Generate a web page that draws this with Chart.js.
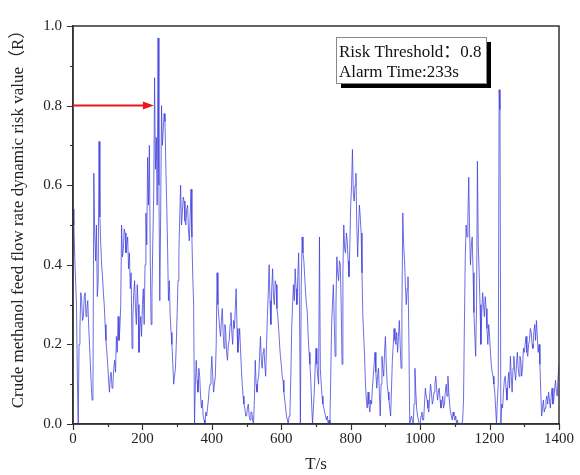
<!DOCTYPE html>
<html>
<head>
<meta charset="utf-8">
<script src="https://cdn.jsdelivr.net/npm/chart.js@4.4.0/dist/chart.umd.min.js"></script>
<style>
  body { margin: 0; background: #fff; }
  #wrap { width: 580px; height: 475px; }
</style>
</head>
<body>
<div id="wrap"><canvas id="myChart"></canvas></div>
<script>
// sample step of the series, seconds
const STEP = 2.5;

// risk value R, one row per 100 s
const R_0 = [0.54,0.50,0.42,0.36,0.30,0.12,0.00,0.20,0.24,0.33,0.31,0.26,0.27,0.32,0.33,0.27,0.29,0.31,0.25,0.20,
  0.15,0.10,0.06,0.09,0.63,0.48,0.41,0.50,0.32,0.36,0.71,0.52,0.45,0.40,0.37,0.33,0.30,0.25,0.21,0.18];
const R_100 = [0.15,0.11,0.08,0.12,0.13,0.09,0.10,0.14,0.16,0.13,0.22,0.18,0.27,0.21,0.24,0.30,0.50,0.42,0.44,0.49,
  0.48,0.43,0.45,0.47,0.39,0.43,0.34,0.38,0.19,0.27,0.33,0.36,0.29,0.25,0.35,0.30,0.18,0.24,0.27,0.22];
const R_200 = [0.30,0.34,0.25,0.40,0.53,0.45,0.67,0.55,0.70,0.42,0.25,0.33,0.46,0.58,0.87,0.64,0.72,0.55,0.97,0.60,
  0.31,0.52,0.80,0.70,0.74,0.78,0.76,0.64,0.55,0.44,0.31,0.36,0.27,0.23,0.20,0.15,0.10,0.12,0.14,0.20];
const R_300 = [0.28,0.36,0.43,0.52,0.60,0.50,0.53,0.57,0.56,0.51,0.50,0.54,0.55,0.49,0.46,0.52,0.59,0.47,0.37,0.30,
  0.00,0.10,0.16,0.11,0.08,0.14,0.12,0.07,0.04,0.06,0.02,0.01,0.00,0.03,0.02,0.04,0.06,0.09,0.10,0.13];
const R_400 = [0.17,0.12,0.08,0.10,0.12,0.20,0.38,0.30,0.27,0.24,0.22,0.26,0.29,0.23,0.19,0.25,0.23,0.18,0.16,0.20,
  0.21,0.25,0.28,0.23,0.20,0.26,0.24,0.29,0.34,0.24,0.18,0.21,0.24,0.19,0.14,0.10,0.07,0.05,0.04,0.02];
const R_500 = [0.02,0.04,0.05,0.02,0.01,0.03,0.03,0.01,0.00,0.06,0.16,0.10,0.08,0.11,0.12,0.17,0.22,0.16,0.14,0.18,
  0.19,0.15,0.12,0.20,0.27,0.33,0.40,0.31,0.25,0.34,0.39,0.32,0.30,0.36,0.35,0.29,0.27,0.24,0.20,0.17];
const R_600 = [0.15,0.12,0.11,0.08,0.06,0.04,0.02,0.01,0.00,0.02,0.03,0.12,0.24,0.30,0.35,0.31,0.39,0.34,0.30,0.37,
  0.43,0.30,0.00,0.35,0.47,0.43,0.41,0.37,0.33,0.30,0.28,0.22,0.18,0.15,0.11,0.05,0.00,0.04,0.08,0.14];
const R_700 = [0.19,0.15,0.12,0.10,0.47,0.14,0.10,0.07,0.05,0.04,0.03,0.02,0.01,0.02,0.00,0.01,0.00,0.12,0.25,0.30,
  0.35,0.26,0.17,0.30,0.42,0.38,0.36,0.41,0.40,0.30,0.15,0.38,0.50,0.44,0.43,0.48,0.46,0.41,0.37,0.45];
const R_800 = [0.55,0.60,0.69,0.58,0.56,0.60,0.63,0.50,0.42,0.49,0.55,0.52,0.48,0.38,0.27,0.22,0.17,0.10,0.06,0.04,
  0.08,0.05,0.03,0.06,0.05,0.09,0.12,0.15,0.18,0.13,0.09,0.12,0.14,0.08,0.02,0.10,0.17,0.14,0.12,0.18];
const R_900 = [0.22,0.15,0.10,0.08,0.06,0.04,0.02,0.09,0.16,0.20,0.24,0.21,0.20,0.23,0.18,0.22,0.26,0.20,0.14,0.28,
  0.53,0.45,0.41,0.35,0.30,0.34,0.37,0.22,0.00,0.01,0.02,0.01,0.00,0.05,0.14,0.08,0.04,0.02,0.01,0.00];
const R_1000 = [0.00,0.02,0.03,0.01,0.01,0.05,0.09,0.07,0.06,0.04,0.03,0.07,0.10,0.08,0.05,0.06,0.08,0.10,0.12,0.09,
  0.06,0.08,0.09,0.06,0.04,0.05,0.07,0.04,0.05,0.08,0.10,0.07,0.12,0.08,0.05,0.03,0.02,0.01,0.03,0.02];
const R_1100 = [0.01,0.02,0.00,0.01,0.00,0.00,0.00,0.00,0.00,0.01,0.06,0.25,0.42,0.50,0.47,0.52,0.62,0.48,0.40,0.45,
  0.47,0.38,0.28,0.22,0.17,0.30,0.66,0.45,0.38,0.30,0.20,0.28,0.33,0.30,0.27,0.32,0.29,0.24,0.20,0.25];
const R_1200 = [0.22,0.18,0.15,0.13,0.12,0.10,0.08,0.04,0.00,0.06,0.10,0.84,0.79,0.00,0.05,0.04,0.08,0.11,0.12,0.09,
  0.06,0.10,0.13,0.09,0.17,0.12,0.08,0.14,0.17,0.13,0.11,0.15,0.18,0.14,0.12,0.17,0.16,0.12,0.14,0.19];
const R_1300 = [0.18,0.20,0.22,0.18,0.17,0.20,0.21,0.24,0.23,0.20,0.19,0.23,0.25,0.21,0.26,0.22,0.18,0.20,0.15,0.08,
  0.02,0.04,0.06,0.03,0.04,0.06,0.07,0.05,0.08,0.06,0.04,0.07,0.09,0.05,0.06,0.09,0.11,0.08,0.07,0.12];
const R_1400 = [0.15];

const X_TICKS = [0, 200, 400, 600, 800, 1000, 1200, 1400];
const Y_TICKS = [0.0, 0.2, 0.4, 0.6, 0.8, 1.0];

const THRESHOLD = 0.8;
const ALARM_TIME = 233;
const BOX_LINES = ['Risk Threshold：0.8', 'Alarm Time:233s'];
const X_TITLE = 'T/s';
const Y_TITLE = 'Crude methanol feed flow rate dynamic risk value（R）';

const values = [].concat(R_0, R_100, R_200, R_300, R_400, R_500, R_600, R_700,
  R_800, R_900, R_1000, R_1100, R_1200, R_1300, R_1400);
const points = values.map((v, i) => ({ x: i * STEP, y: v }));

const SERIF = "'Liberation Serif', 'Times New Roman', 'Noto Sans CJK SC', serif";

// frame, tick marks, arrow, text box, axis titles
const extras = {
  id: 'extras',
  afterDraw(chart) {
    const ctx = chart.ctx;
    const a = chart.chartArea;
    const xs = chart.scales.x;
    const ys = chart.scales.y;
    ctx.save();

    // box around plot
    ctx.strokeStyle = '#333';
    ctx.lineWidth = 1.5;
    ctx.strokeRect(a.left, a.top, a.right - a.left, a.bottom - a.top);

    // ticks (major + minor), outside
    ctx.lineWidth = 1.2;
    ctx.beginPath();
    for (let t = 0; t <= 1400; t += 100) {
      const px = Math.round(xs.getPixelForValue(t)) + 0.5;
      const len = t % 200 === 0 ? 6 : 3;
      ctx.moveTo(px, a.bottom);
      ctx.lineTo(px, a.bottom + len);
    }
    for (let k = 0; k <= 10; k++) {
      const py = Math.round(ys.getPixelForValue(k / 10)) + 0.5;
      const len = k % 2 === 0 ? 6 : 3;
      ctx.moveTo(a.left, py);
      ctx.lineTo(a.left - len, py);
    }
    ctx.stroke();

    // red arrow at the threshold up to alarm time
    const ay = ys.getPixelForValue(THRESHOLD);
    const ax0 = xs.getPixelForValue(0);
    const ax1 = xs.getPixelForValue(ALARM_TIME);
    ctx.strokeStyle = '#e8181c';
    ctx.fillStyle = '#e8181c';
    ctx.lineWidth = 2;
    ctx.beginPath();
    ctx.moveTo(ax0, ay);
    ctx.lineTo(ax1 - 9, ay);
    ctx.stroke();
    ctx.beginPath();
    ctx.moveTo(ax1, ay);
    ctx.lineTo(ax1 - 11, ay - 4);
    ctx.lineTo(ax1 - 11, ay + 4);
    ctx.closePath();
    ctx.fill();

    // text box with shadow
    const bx = a.left + 263, by = a.top + 11, bw = 150, bh = 46;
    ctx.fillStyle = '#000';
    ctx.fillRect(bx + 5, by + 5, bw, bh);
    ctx.fillStyle = '#fff';
    ctx.fillRect(bx, by, bw, bh);
    ctx.strokeStyle = '#888';
    ctx.lineWidth = 1;
    ctx.strokeRect(bx + 0.5, by + 0.5, bw, bh);
    ctx.fillStyle = '#111';
    ctx.font = '17px ' + SERIF;
    ctx.textAlign = 'left';
    ctx.textBaseline = 'alphabetic';
    ctx.fillText(BOX_LINES[0], bx + 3, by + 20);
    ctx.fillText(BOX_LINES[1], bx + 3, by + 40);

    // axis titles
    ctx.font = '17px ' + SERIF;
    ctx.fillStyle = '#222';
    ctx.textAlign = 'center';
    ctx.textBaseline = 'middle';
    ctx.fillText(X_TITLE, (a.left + a.right) / 2, 465);
    ctx.translate(19, 215);
    ctx.rotate(-Math.PI / 2);
    ctx.fillText(Y_TITLE, 0, 0);
    ctx.restore();
  }
};

const ctx = document.getElementById('myChart').getContext('2d');
const myChart = new Chart(ctx, {
  type: 'line',
  data: {
    datasets: [{
      data: points,
      borderColor: 'rgba(60, 60, 220, 0.75)',
      borderWidth: 1,
      pointRadius: 0,
      fill: false,
      tension: 0
    }]
  },
  options: {
    responsive: true,
    maintainAspectRatio: false,
    animation: false,
    layout: { padding: { left: 0, top: 26, right: 15, bottom: 0 } },
    plugins: {
      legend: { display: false },
      title: { display: false },
      tooltip: { enabled: false }
    },
    scales: {
      x: {
        type: 'linear',
        min: 0,
        max: 1400,
        afterFit(scale) { scale.height = 51; },
        afterBuildTicks(scale) { scale.ticks = X_TICKS.map(v => ({ value: v })); },
        grid: { display: false, drawTicks: false },
        border: { display: true, color: '#333', width: 1.5 },
        ticks: {
          padding: 6,
          color: '#222',
          maxRotation: 0,
          font: { family: SERIF, size: 15 },
          callback: v => String(v)
        }
      },
      y: {
        min: 0,
        max: 1,
        afterFit(scale) { scale.width = 73; },
        afterBuildTicks(scale) { scale.ticks = Y_TICKS.map(v => ({ value: v })); },
        grid: { display: false, drawTicks: false },
        border: { display: true, color: '#333', width: 1.5 },
        ticks: {
          padding: 11,
          color: '#222',
          font: { family: SERIF, size: 15 },
          callback: v => Number(v).toFixed(1)
        }
      }
    }
  },
  plugins: [extras]
});
</script>
</body>
</html>
